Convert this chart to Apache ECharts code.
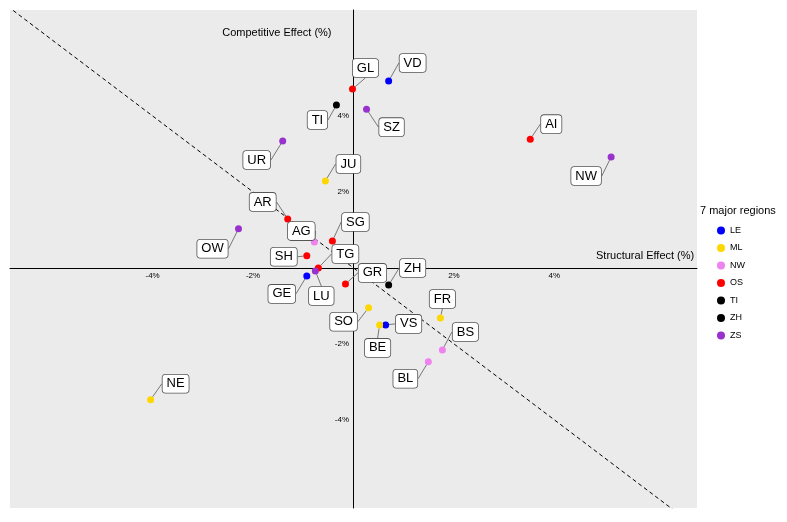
<!DOCTYPE html>
<html><head><meta charset="utf-8">
<script src="https://cdn.jsdelivr.net/npm/echarts@6/dist/echarts.min.js"></script>
<style>html,body{margin:0;background:#fff}#main{width:787px;height:522px}</style>
</head><body><div id="main"></div>
<script>
const regions = ['LE', 'ML', 'NW', 'OS', 'TI', 'ZH', 'ZS'];
const colors = ['#0000FF', '#FFD700', '#EE82EE', '#FF0000', '#000000', '#000000', '#9932CC'];
// [canton, region, structural %, competitive %]
const points = [
  ['VD', 'LE', 0.70, 4.92], ['GL', 'OS', -0.02, 4.71], ['TI', 'TI', -0.34, 4.29],
  ['SZ', 'ZS', 0.26, 4.18], ['AI', 'OS', 3.52, 3.39], ['NW', 'ZS', 5.13, 2.92],
  ['UR', 'ZS', -1.41, 3.34], ['JU', 'ML', -0.56, 2.29], ['AR', 'OS', -1.31, 1.29],
  ['SG', 'OS', -0.42, 0.71], ['AG', 'NW', -0.78, 0.68], ['OW', 'ZS', -2.29, 1.03],
  ['SH', 'OS', -0.93, 0.32], ['TG', 'OS', -0.70, 0.0], ['LU', 'ZS', -0.76, -0.08],
  ['GE', 'LE', -0.93, -0.21], ['GR', 'OS', -0.16, -0.42], ['ZH', 'ZH', 0.70, -0.45],
  ['SO', 'ML', 0.30, -1.05], ['FR', 'ML', 1.73, -1.32], ['VS', 'LE', 0.64, -1.50],
  ['BE', 'ML', 0.52, -1.50], ['BS', 'NW', 1.77, -2.16], ['BL', 'NW', 1.49, -2.47],
  ['NE', 'ML', -4.04, -3.47]
];
// label displacement in px
const offsets = {
  VD: [24, -18], GL: [13, -21], TI: [-19, 15], SZ: [25, 18], AI: [21, -15], NW: [-25, 19],
  UR: [-26, 19], JU: [23, -17], AR: [-25, -17], SG: [23, -19], AG: [-13, -11], OW: [-26, 20],
  SH: [-23, 1], TG: [27, -14], LU: [6, 25], GE: [-25, 18], GR: [27, -11], ZH: [24, -17],
  SO: [-25, 14], FR: [2, -19], VS: [23, -1], BE: [-2, 23], BS: [23, -18], BL: [-23, 17], NE: [25, -16]
};
const xTicks = [-4, -2, 2, 4];
const yTicks = [-4, -2, 2, 4];

const chart = echarts.init(document.getElementById('main'));
const series = regions.map((r, i) => ({
  name: r, type: 'scatter', symbolSize: 7, itemStyle: { color: colors[i], opacity: 1 },
  data: points.filter(p => p[1] === r).map(p => ({ name: p[0], value: [p[2], p[3]] })),
  label: {
    show: true, formatter: '{b}', color: '#000', fontSize: 13, fontFamily: 'Liberation Sans',
    backgroundColor: '#fff', borderColor: '#555', borderWidth: 0.8, borderRadius: 3,
    padding: [3, 4, 2, 4], position: 'inside'
  },
  labelLine: { show: true, lineStyle: { color: '#777', width: 1 } },
  labelLayout: p => {
    const o = offsets[chart.getOption().series[p.seriesIndex].data[p.dataIndex].name];
    return { dx: o[0], dy: o[1] };
  },
  z: 3
}));
series.push({
  type: 'line', data: [[-7, 7], [7, -7]], symbol: 'none', silent: true,
  lineStyle: { color: '#000', type: [4, 3], width: 1 }, z: 2
});

const tickLabel = { fontSize: 8, color: '#000', fontFamily: 'Liberation Sans' };
chart.setOption({
  animation: false,
  grid: { left: 10, right: 90, top: 10, bottom: 14, containLabel: false, outerBoundsMode: 'none',
    show: true, backgroundColor: '#EBEBEB', borderWidth: 0 },
  legend: {
    orient: 'vertical', left: 712, top: 221, itemWidth: 8, itemHeight: 8, itemGap: 8.5,
    icon: 'circle', textStyle: { fontSize: 9, color: '#000', fontFamily: 'Liberation Sans' }, data: regions
  },
  graphic: [{ type: 'text', left: 700, top: 205, style: { text: '7 major regions', fontSize: 11, fontFamily: 'Liberation Sans' } }],
  xAxis: {
    type: 'value', min: -6.84, max: 6.84, splitLine: { show: false },
    axisLine: { onZero: true, lineStyle: { color: '#000' } }, axisTick: { show: false },
    name: 'Structural Effect (%)', nameLocation: 'end', nameGap: -101,
    nameTextStyle: { fontSize: 11, color: '#000', verticalAlign: 'bottom', padding: [0, 0, 6, 0], fontFamily: 'Liberation Sans' },
    axisLabel: Object.assign({ customValues: xTicks, formatter: v => v + '%', margin: -236 }, tickLabel)
  },
  yAxis: {
    type: 'value', min: -6.32, max: 6.79, splitLine: { show: false },
    axisLine: { onZero: true, lineStyle: { color: '#000' } }, axisTick: { show: false },
    name: 'Competitive Effect (%)', nameLocation: 'end', nameGap: -28,
    nameTextStyle: { fontSize: 11, color: '#000', align: 'right', padding: [0, 22, 0, 0], fontFamily: 'Liberation Sans' },
    axisLabel: Object.assign({ customValues: yTicks, formatter: v => v + '%', margin: -339 }, tickLabel)
  },
  series
});
</script></body></html>
